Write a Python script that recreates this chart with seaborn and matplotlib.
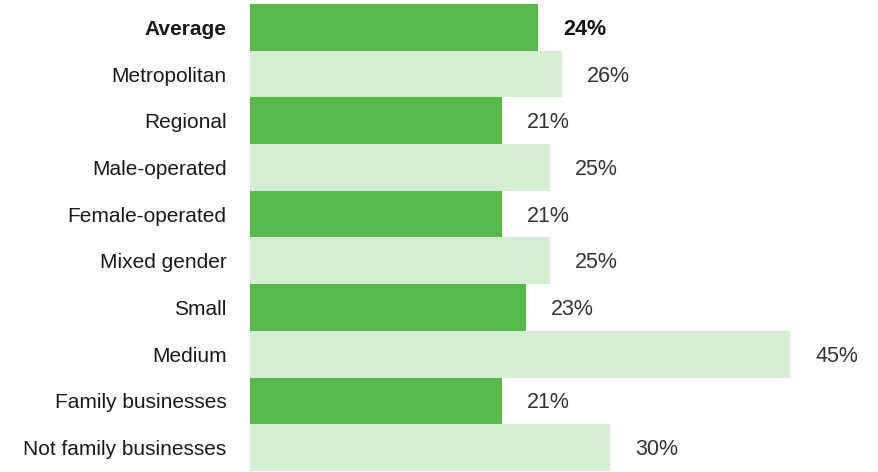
import matplotlib
matplotlib.use("Agg")
import matplotlib.pyplot as plt
import seaborn as sns
import pandas as pd

categories = ["Average", "Metropolitan", "Regional", "Male-operated", "Female-operated",
              "Mixed gender", "Small", "Medium", "Family businesses", "Not family businesses"]
values = [24, 26, 21, 25, 21, 25, 23, 45, 21, 30]
value_labels = ["24%", "26%", "21%", "25%", "21%", "25%", "23%", "45%", "21%", "30%"]

dark_green = "#57b84b"
light_green = "#d5eed3"
palette = [dark_green if i % 2 == 0 else light_green for i in range(len(categories))]

sns.set_theme(style="white")
plt.rcParams["font.family"] = ["Liberation Sans", "DejaVu Sans"]

df = pd.DataFrame({"category": categories, "value": values})

fig = plt.figure(figsize=(8.79, 4.72), dpi=100)
ax = fig.add_axes([250 / 879, 1 / 472, 629 / 879, 467 / 472])

sns.barplot(data=df, x="value", y="category", hue="category", palette=palette,
            orient="h", width=1.0, legend=False, ax=ax, saturation=1, linewidth=0)

ax.set_xlim(0, 629 / 12)
ax.set_ylim(len(categories) - 0.5, -0.5)
ax.set_xlabel("")
ax.set_ylabel("")
ax.set_xticks([])
for s in ax.spines.values():
    s.set_visible(False)

ax.tick_params(axis="y", length=0, pad=17, labelsize=15, labelcolor="#1a1a1a")
for i, lbl in enumerate(ax.get_yticklabels()):
    lbl.set_ha("right")
    if i == 0:
        lbl.set_fontweight("bold")

for i, (v, t) in enumerate(zip(values, value_labels)):
    ax.annotate(t, xy=(v, i), xytext=(25, -2), textcoords="offset pixels",
                ha="left", va="center", fontsize=15.5,
                color="#111111" if i == 0 else "#333333",
                fontweight="bold" if i == 0 else "normal")

fig.savefig("out.png", dpi=100)
